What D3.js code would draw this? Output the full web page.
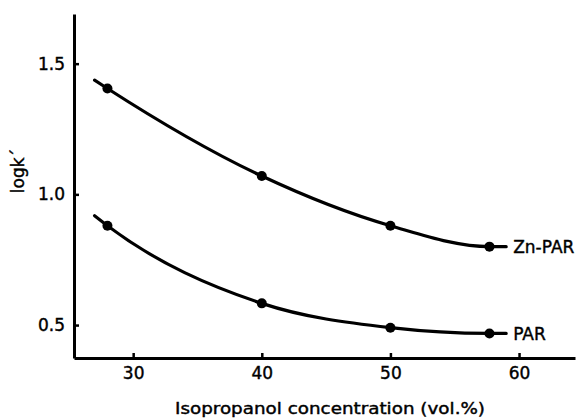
<!DOCTYPE html>
<html>
<head>
<meta charset="utf-8">
<script src="https://cdn.jsdelivr.net/npm/d3@7"></script>
<style>
    body { margin: 0; background: #fff; }
    svg { display: block; }
    text { font-family: "DejaVu Sans", sans-serif; fill: #000; stroke: #000; stroke-width: 0.4px; }
</style>
</head>
<body>
<div id="chart"></div>
<script>
// measured points (vol.% isopropanol vs log k')
const concentrations = [28, 40, 50, 57.7];
const znParValues = [1.405, 1.07, 0.88, 0.80];
const parValues = [0.88, 0.583, 0.49, 0.468];

// where the drawn curves start and stop (beyond the points)
const curveEnds = [27.0, 59.0];
const znParEnds = [1.437, 0.80];
const parEnds = [0.918, 0.468];

const seriesNames = ['Zn-PAR', 'PAR'];
const xTicks = [30, 40, 50, 60];
const yTicks = [0.5, 1.0, 1.5];

const width = 581, height = 419;
const margin = { top: 14, right: 6, bottom: 61, left: 74 };

const svg = d3.select('#chart').append('svg')
    .attr('width', width)
    .attr('height', height);

const x = d3.scaleLinear()
    .domain([25.4, 64.35])
    .range([margin.left, width - margin.right]);

const y = d3.scaleLinear()
    .domain([0.374, 1.69])
    .range([height - margin.bottom, margin.top]);

// axes, ticks pointing inward
const xAxis = svg.append('g')
    .attr('transform', `translate(0,${height - margin.bottom})`)
    .call(d3.axisBottom(x).tickValues(xTicks).tickSize(-5).tickSizeOuter(0).tickPadding(9)
        .tickFormat(d3.format('d')));

const yAxis = svg.append('g')
    .attr('transform', `translate(${margin.left},0)`)
    .call(d3.axisLeft(y).tickValues(yTicks).tickSize(-5).tickSizeOuter(0).tickPadding(9)
        .tickFormat(d3.format('.1f')));

[xAxis, yAxis].forEach(a => {
    a.select('.domain').attr('stroke', '#000').attr('stroke-width', 3);
    a.selectAll('.tick line').attr('stroke', '#000').attr('stroke-width', 2.5);
    a.selectAll('.tick text')
        .style('font-size', '17px')
        .attr('fill', '#000');
});

// axis titles
const xTitle = svg.append('text')
    .attr('x', 175)
    .attr('y', 414)
    .style('font-size', '15px')
    .text('Isopropanol concentration (vol.%)');
xTitle.attr('textLength', 310).attr('lengthAdjust', 'spacingAndGlyphs');

svg.append('text')
    .attr('transform', 'translate(24,171) rotate(-90)')
    .attr('text-anchor', 'middle')
    .style('font-size', '17px')
    .text('logk´');

// curves
const line = d3.line()
    .x(d => x(d[0]))
    .y(d => y(d[1]))
    .curve(d3.curveMonotoneX);

const series = [
    { name: seriesNames[0], values: znParValues, ends: znParEnds },
    { name: seriesNames[1], values: parValues, ends: parEnds }
];

series.forEach(s => {
    const pts = concentrations.map((c, i) => [c, s.values[i]]);
    const curvePts = [[curveEnds[0], s.ends[0]], ...pts, [curveEnds[1], s.ends[1]]];

    svg.append('path')
        .datum(curvePts)
        .attr('fill', 'none')
        .attr('stroke', '#000')
        .attr('stroke-width', 3.2)
        .attr('stroke-linecap', 'round')
        .attr('d', line);

    svg.selectAll(null)
        .data(pts)
        .enter()
        .append('circle')
        .attr('cx', d => x(d[0]))
        .attr('cy', d => y(d[1]))
        .attr('r', 5)
        .attr('fill', '#000');

    svg.append('text')
        .attr('x', x(curveEnds[1]) + 7)
        .attr('y', y(s.ends[1]))
        .attr('dy', '0.36em')
        .style('font-size', '17px')
        .text(s.name);
});
</script>
</body>
</html>
